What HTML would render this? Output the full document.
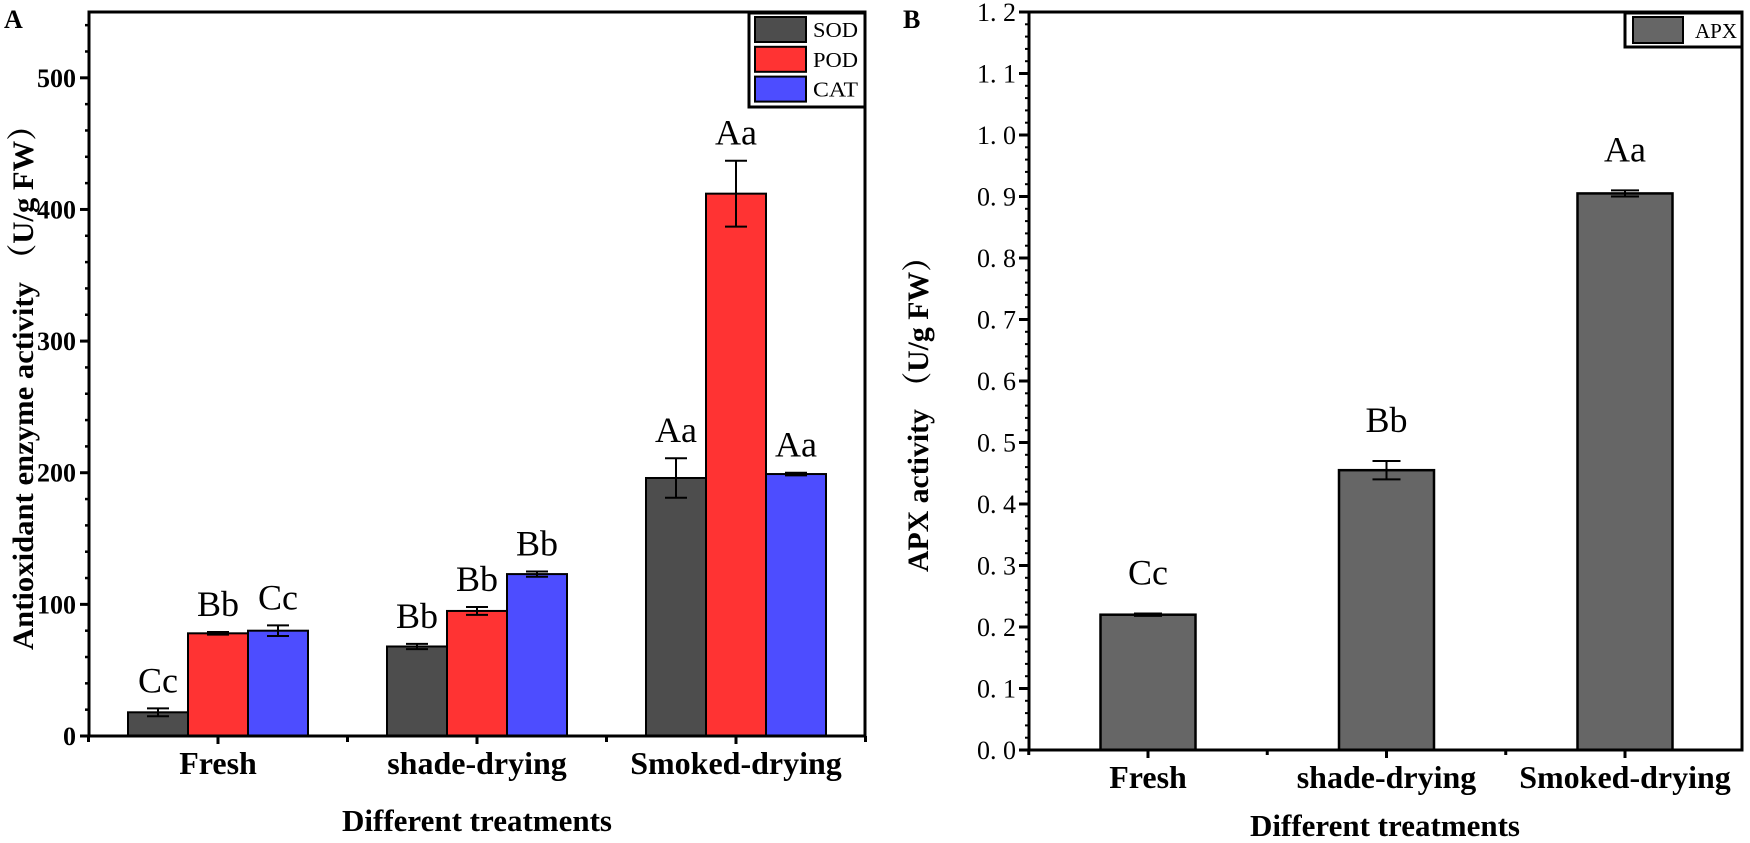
<!DOCTYPE html>
<html><head><meta charset="utf-8"><style>
html,body{margin:0;padding:0;background:#fff;}
svg{display:block;}
text{font-family:"Liberation Serif","Noto Serif CJK SC",serif;fill:#000;}
</style></head><body>
<svg id="fig" width="1750" height="843" viewBox="0 0 1750 843" xmlns="http://www.w3.org/2000/svg"></svg>
<script>
// ---- Panel A data ----
const catsA = ["Fresh", "shade-drying", "Smoked-drying"];
const seriesNamesA = ["SOD", "POD", "CAT"];
const sodVals = [18, 68, 196];
const sodErr = [3, 2, 15];
const podVals = [78, 95, 412];
const podErr = [1, 3, 25];
const catVals = [80, 123, 199];
const catErr = [4, 2, 1];
const sodLetters = ["Cc", "Bb", "Aa"];
const podLetters = ["Bb", "Bb", "Aa"];
const catLetters = ["Cc", "Bb", "Aa"];
const ticksA = [0, 100, 200, 300, 400, 500];
// ---- Panel B data ----
const catsB = ["Fresh", "shade-drying", "Smoked-drying"];
const apxVals = [0.22, 0.455, 0.905];
const apxErr = [0.002, 0.015, 0.005];
const apxLetters = ["Cc", "Bb", "Aa"];
const ticksB = [0, 0.1, 0.2, 0.3, 0.4, 0.5, 0.6, 0.7, 0.8, 0.9, 1.0, 1.1, 1.2];
const tickLabelsB = ["0. 0","0. 1","0. 2","0. 3","0. 4","0. 5","0. 6","0. 7","0. 8","0. 9","1. 0","1. 1","1. 2"];

const NS = "http://www.w3.org/2000/svg";
const svg = document.getElementById("fig");
function mk(tag, attrs, parent, txt) {
  const e = document.createElementNS(NS, tag);
  for (const k in attrs) e.setAttribute(k, attrs[k]);
  if (txt !== undefined) e.textContent = txt;
  (parent || svg).appendChild(e);
  return e;
}

// ===== Panel A =====
const A = {l: 89, r: 865, t: 12, b: 736, ymax: 550};
const yA = v => A.b - v / A.ymax * (A.b - A.t);
const xA = i => 218 + i * 259;
const gA = mk("g", {});


let lab = mk("text", {x: 4, y: 28, "font-family": "Liberation Sans, sans-serif", "font-size": 26, "font-weight": "bold"}, gA, "A");



for (let v = 0; v <= 550; v += 20) {
  const t = mk("line", {x1: A.l - 4, x2: A.l, y1: yA(v), y2: yA(v), stroke: "#000", "stroke-width": 2.5}, gA);
  
  
}
ticksA.forEach(v => {
  const t = mk("line", {x1: A.l - 9, x2: A.l, y1: yA(v), y2: yA(v), stroke: "#000", "stroke-width": 3}, gA);
  
  
  const tx = mk("text", {x: A.l - 13, y: yA(v) + 9, "text-anchor": "end", "font-size": 26, "font-weight": "bold"}, gA, String(v));
  
  
});

const seriesA = [
  {vals: sodVals, err: sodErr, let: sodLetters, color: "#4d4d4d", off: -1, name: "sod"},
  {vals: podVals, err: podErr, let: podLetters, color: "#ff3333", off: 0, name: "pod"},
  {vals: catVals, err: catErr, let: catLetters, color: "#4d4dff", off: 1, name: "cat"}
];
const bwA = 60;
seriesA.forEach(s => {
  s.vals.forEach((v, i) => {
    const cx = xA(i) + s.off * bwA;
    const b = mk("rect", {x: cx - bwA / 2, y: yA(v), width: bwA, height: A.b - yA(v), fill: s.color, stroke: "#000", "stroke-width": 2}, gA);
    
    
    const e = s.err[i];
    const eg = mk("path", {d: `M${cx},${yA(v + e)}V${yA(v - e)}M${cx - 11},${yA(v + e)}H${cx + 11}M${cx - 11},${yA(v - e)}H${cx + 11}`, stroke: "#000", "stroke-width": 2, fill: "none"}, gA);
    
    
    const lt = mk("text", {x: cx, y: yA(v + e) - 16, "text-anchor": "middle", "font-size": 36}, gA, s.let[i]);
    
    
  });
});
let fr = mk("rect", {x: A.l, y: A.t, width: A.r - A.l, height: A.b - A.t, fill: "none", stroke: "#000", "stroke-width": 3}, gA);


catsA.forEach((c, i) => {
  const t = mk("line", {x1: xA(i), x2: xA(i), y1: A.b, y2: A.b + 8, stroke: "#000", "stroke-width": 3}, gA);
  
  
  const tx = mk("text", {x: xA(i), y: A.b + 38, "text-anchor": "middle", "font-size": 32, "font-weight": "bold"}, gA, c);
  
  
});
[-0.5, 0.5, 1.5, 2.5].forEach(m => {
  const t = mk("line", {x1: xA(m), x2: xA(m), y1: A.b, y2: A.b + 6, stroke: "#000", "stroke-width": 3}, gA);
  
  
});
let xt = mk("text", {x: 477, y: 831, "text-anchor": "middle", "font-size": 31, "font-weight": "bold"}, gA, "Different treatments");


let yt = mk("text", {x: 0, y: 0, transform: "translate(33,380) rotate(-90)", "text-anchor": "middle", "font-size": 30, "font-weight": "bold", textLength: 540, lengthAdjust: "spacingAndGlyphs"}, gA, "Antioxidant enzyme activity （U/g FW）");


const lg = mk("g", {}, gA);


mk("rect", {x: 749, y: 13, width: 116, height: 94, fill: "#fff", stroke: "#000", "stroke-width": 3}, lg);
seriesA.forEach((s, k) => {
  const y0 = 17 + k * 29.8;
  const p = mk("rect", {x: 755, y: y0, width: 51, height: 25, fill: s.color, stroke: "#000", "stroke-width": 2}, lg);
  
  
  const t = mk("text", {x: 813, y: y0 + 20, "font-size": 21, textLength: 45, lengthAdjust: "spacingAndGlyphs"}, lg, seriesNamesA[k]);
  
  
});

// ===== Panel B =====
const B = {l: 1029, r: 1742, t: 12, b: 750, ymax: 1.2};
const yB = v => B.b - v / B.ymax * (B.b - B.t);
const xB = i => 1148 + i * 238.5;
const gB = mk("g", {});


lab = mk("text", {x: 903, y: 28, "font-family": "Liberation Sans, sans-serif", "font-size": 26, "font-weight": "bold"}, gB, "B");


for (let k = 0; k <= 60; k++) {
  const v = k * 0.02;
  const t = mk("line", {x1: B.l - 4, x2: B.l, y1: yB(v), y2: yB(v), stroke: "#000", "stroke-width": 2}, gB);
  
  
}
ticksB.forEach((v, k) => {
  const t = mk("line", {x1: B.l - 10, x2: B.l, y1: yB(v), y2: yB(v), stroke: "#000", "stroke-width": 3}, gB);
  
  
  const tx = mk("text", {x: B.l - 13, y: yB(v) + 9, "text-anchor": "end", "font-size": 26}, gB, tickLabelsB[k]);
  
  
});
const bwB = 95;
apxVals.forEach((v, i) => {
  const cx = xB(i);
  const b = mk("rect", {x: cx - bwB / 2, y: yB(v), width: bwB, height: B.b - yB(v), fill: "#666666", stroke: "#000", "stroke-width": 2.5}, gB);
  
  
  const e = apxErr[i];
  const eg = mk("path", {d: `M${cx},${yB(v + e)}V${yB(v - e)}M${cx - 14},${yB(v + e)}H${cx + 14}M${cx - 14},${yB(v - e)}H${cx + 14}`, stroke: "#000", "stroke-width": 2, fill: "none"}, gB);
  
  
  const lt = mk("text", {x: cx, y: yB(v + e) - 29, "text-anchor": "middle", "font-size": 36}, gB, apxLetters[i]);
  
  
});
fr = mk("rect", {x: B.l, y: B.t, width: B.r - B.l, height: B.b - B.t, fill: "none", stroke: "#000", "stroke-width": 3}, gB);


catsB.forEach((c, i) => {
  const t = mk("line", {x1: xB(i), x2: xB(i), y1: B.b, y2: B.b + 8, stroke: "#000", "stroke-width": 3}, gB);
  
  
  const tx = mk("text", {x: xB(i), y: B.b + 38, "text-anchor": "middle", "font-size": 32, "font-weight": "bold"}, gB, c);
  
  
});
[-0.5, 0.5, 1.5].forEach(m => {
  const t = mk("line", {x1: xB(m), x2: xB(m), y1: B.b, y2: B.b + 5, stroke: "#000", "stroke-width": 3}, gB);
  
  
});
xt = mk("text", {x: 1385, y: 836, "text-anchor": "middle", "font-size": 31, "font-weight": "bold"}, gB, "Different treatments");


yt = mk("text", {x: 0, y: 0, transform: "translate(928,407) rotate(-90)", "text-anchor": "middle", "font-size": 30, "font-weight": "bold", textLength: 330, lengthAdjust: "spacingAndGlyphs"}, gB, "APX activity （U/g FW）");


const lgB = mk("g", {}, gB);


mk("rect", {x: 1625, y: 13, width: 117, height: 34, fill: "#fff", stroke: "#000", "stroke-width": 3}, lgB);
let sw = mk("rect", {x: 1633, y: 17, width: 50, height: 26, fill: "#666666", stroke: "#000", "stroke-width": 2}, lgB);


let le = mk("text", {x: 1695, y: 38, "font-size": 21}, lgB, "APX");


</script>
</body></html>
